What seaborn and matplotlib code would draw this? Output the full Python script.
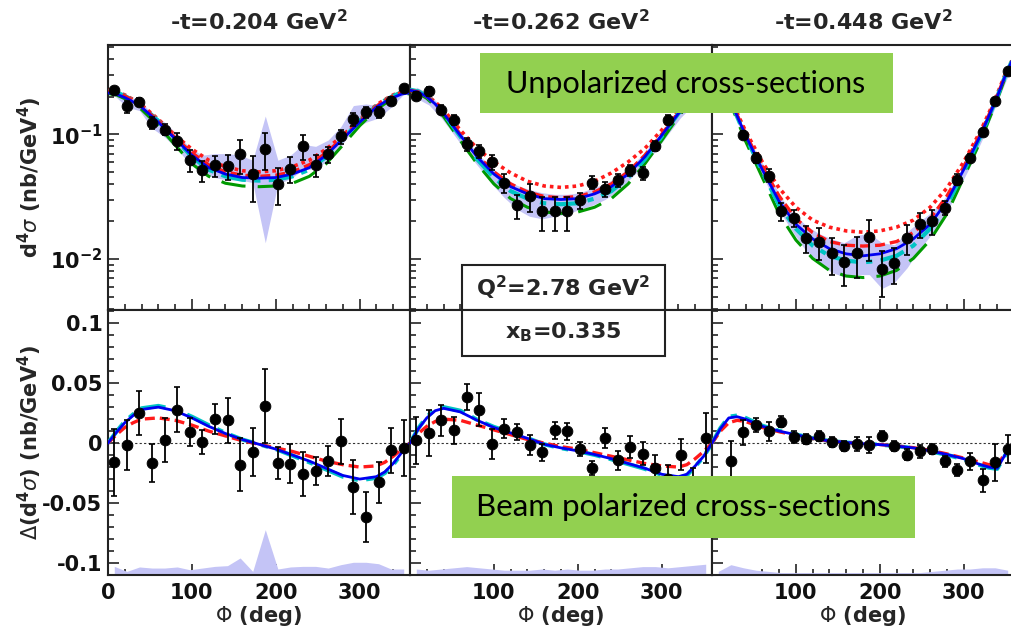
import numpy as np
import matplotlib
matplotlib.use("Agg")
import matplotlib.pyplot as plt
import seaborn as sns
from matplotlib.patches import Rectangle
from matplotlib.ticker import MultipleLocator, NullFormatter, FixedLocator

# bin centres of the data points and the grid the model curves are read on
phi_pts = [7.5, 22.5, 37.5, 52.5, 67.5, 82.5, 97.5, 112.5, 127.5, 142.5, 157.5, 172.5,
           187.5, 202.5, 217.5, 232.5, 247.5, 262.5, 277.5, 292.5, 307.5, 322.5, 337.5, 352.5]
phi_grid = [0, 10, 20, 30, 40, 60, 80, 100, 120, 140, 160, 180,
            200, 220, 240, 260, 280, 300, 320, 330, 340, 350, 360]

titles = ["-t=0.204 GeV$^{\\mathdefault{2}}$", "-t=0.262 GeV$^{\\mathdefault{2}}$",
          "-t=0.448 GeV$^{\\mathdefault{2}}$"]

# ---- unpolarized cross sections (top row) ----
xs_t1 = [0.225, 0.168, 0.182, 0.123, 0.109, 0.089, 0.062, 0.0515, 0.0565, 0.0555, 0.0689, 0.0476,
         0.0769, 0.0401, 0.0531, 0.0802, 0.0572, 0.0689, 0.0964, 0.133, 0.150, 0.150, 0.186, 0.235]
err_t1 = [0.0135, 0.0185, 0.0146, 0.0135, 0.0109, 0.0142, 0.0124, 0.0098, 0.0107, 0.0122, 0.0207, 0.019,
          0.0254, 0.0132, 0.0122, 0.0176, 0.0114, 0.0096, 0.0125, 0.016, 0.015, 0.015, 0.0149, 0.0141]
xs_t2 = [0.204, 0.221, 0.158, 0.131, 0.084, 0.073, 0.060, 0.041, 0.0269, 0.0319, 0.0242, 0.0242,
         0.0242, 0.0295, 0.041, 0.0366, 0.0427, 0.0515, 0.049, 0.081, 0.131, 0.165, 0.19, 0.22]
err_t2 = [0.0163, 0.0177, 0.0126, 0.0131, 0.0101, 0.0088, 0.0084, 0.0074, 0.0059, 0.008, 0.0073, 0.0073,
          0.0073, 0.0044, 0.0049, 0.0051, 0.0051, 0.0052, 0.0059, 0.0081, 0.0105, 0.0132, 0.0152, 0.0176]
xs_t3 = [0.30, 0.22, 0.0994, 0.0647, 0.0467, 0.0242, 0.0214, 0.0148, 0.0138, 0.0111, 0.00946, 0.0111,
         0.0151, 0.00828, 0.00925, 0.0148, 0.019, 0.0201, 0.0258, 0.0434, 0.0647, 0.104, 0.186, 0.32]
err_t3 = [0.015, 0.011, 0.006, 0.0058, 0.0056, 0.0039, 0.0034, 0.0036, 0.0039, 0.0036, 0.0034, 0.004,
          0.0054, 0.0033, 0.003, 0.0041, 0.0042, 0.0044, 0.0034, 0.0043, 0.0052, 0.0062, 0.0093, 0.016]

band_hi_t1 = [0.24, 0.20, 0.19, 0.145, 0.125, 0.10, 0.078, 0.068, 0.07, 0.07, 0.068, 0.062,
              0.14, 0.062, 0.068, 0.083, 0.08, 0.09, 0.115, 0.17, 0.175, 0.17, 0.20, 0.245]
band_lo_t1 = [0.205, 0.165, 0.155, 0.112, 0.095, 0.076, 0.058, 0.048, 0.045, 0.043, 0.043, 0.041,
              0.0135, 0.040, 0.044, 0.052, 0.053, 0.062, 0.08, 0.11, 0.125, 0.135, 0.165, 0.21]
band_hi_t2 = [0.239, 0.212, 0.166, 0.122, 0.090, 0.068, 0.054, 0.045, 0.039, 0.036, 0.034, 0.033,
              0.033, 0.034, 0.037, 0.040, 0.046, 0.055, 0.069, 0.091, 0.122, 0.166, 0.212, 0.239]
band_lo_t2 = [0.195, 0.172, 0.135, 0.099, 0.072, 0.054, 0.040, 0.031, 0.025, 0.022, 0.021, 0.022,
              0.023, 0.025, 0.027, 0.030, 0.035, 0.044, 0.055, 0.073, 0.10, 0.136, 0.172, 0.195]
band_hi_t3 = [0.38, 0.20, 0.112, 0.072, 0.048, 0.031, 0.023, 0.0185, 0.016, 0.0145, 0.0135, 0.0155,
              0.016, 0.0135, 0.013, 0.0165, 0.020, 0.024, 0.031, 0.046, 0.069, 0.108, 0.195, 0.34]
band_lo_t3 = [0.32, 0.17, 0.094, 0.059, 0.037, 0.023, 0.016, 0.0115, 0.0095, 0.0078, 0.0072, 0.0075,
              0.0075, 0.0058, 0.0065, 0.0085, 0.012, 0.016, 0.022, 0.035, 0.055, 0.092, 0.165, 0.29]

# model curves, top row
blue_t1 = [0.215, 0.21, 0.197, 0.182, 0.165, 0.125, 0.092, 0.068, 0.054, 0.048, 0.045, 0.0445,
           0.045, 0.048, 0.054, 0.068, 0.092, 0.125, 0.165, 0.182, 0.197, 0.21, 0.215]
rdot_t1 = [0.225, 0.22, 0.207, 0.19, 0.172, 0.132, 0.098, 0.076, 0.062, 0.055, 0.051, 0.050,
           0.051, 0.055, 0.062, 0.076, 0.098, 0.132, 0.172, 0.19, 0.207, 0.22, 0.225]
rdash_t1 = [0.222, 0.217, 0.203, 0.187, 0.168, 0.128, 0.094, 0.071, 0.057, 0.05, 0.047, 0.046,
            0.047, 0.05, 0.057, 0.071, 0.094, 0.128, 0.168, 0.187, 0.203, 0.217, 0.222]
cyan_t1 = [0.222, 0.217, 0.203, 0.187, 0.169, 0.128, 0.092, 0.066, 0.052, 0.046, 0.0432, 0.0425,
           0.0432, 0.046, 0.052, 0.066, 0.092, 0.128, 0.169, 0.187, 0.203, 0.217, 0.222]
green_t1 = [0.212, 0.207, 0.193, 0.176, 0.158, 0.117, 0.082, 0.058, 0.046, 0.0405, 0.0385, 0.038,
            0.0385, 0.0405, 0.046, 0.058, 0.082, 0.117, 0.158, 0.176, 0.193, 0.207, 0.212]

blue_t2 = [0.225, 0.218, 0.2, 0.175, 0.147, 0.098, 0.066, 0.048, 0.038, 0.0333, 0.0305, 0.030,
           0.0305, 0.0333, 0.038, 0.048, 0.066, 0.098, 0.147, 0.175, 0.2, 0.218, 0.225]
rdot_t2 = [0.225, 0.22, 0.205, 0.182, 0.157, 0.108, 0.077, 0.06, 0.049, 0.042, 0.0385, 0.0375,
           0.0385, 0.042, 0.049, 0.06, 0.077, 0.108, 0.157, 0.182, 0.205, 0.22, 0.225]
rdash_t2 = [0.225, 0.219, 0.201, 0.177, 0.15, 0.1, 0.068, 0.05, 0.04, 0.0345, 0.0317, 0.031,
            0.0317, 0.0345, 0.04, 0.05, 0.068, 0.1, 0.15, 0.177, 0.201, 0.219, 0.225]
cyan_t2 = [0.228, 0.221, 0.202, 0.176, 0.147, 0.096, 0.063, 0.045, 0.035, 0.0305, 0.028, 0.0275,
           0.028, 0.0305, 0.035, 0.045, 0.063, 0.096, 0.147, 0.176, 0.202, 0.221, 0.228]
green_t2 = [0.22, 0.213, 0.194, 0.168, 0.139, 0.089, 0.058, 0.04, 0.0305, 0.026, 0.0238, 0.0232,
            0.0238, 0.026, 0.0305, 0.04, 0.058, 0.089, 0.139, 0.168, 0.194, 0.213, 0.22]

blue_t3 = [0.42, 0.30, 0.20, 0.14, 0.098, 0.052, 0.029, 0.019, 0.0145, 0.0121, 0.011, 0.0106,
           0.011, 0.0121, 0.0145, 0.019, 0.029, 0.052, 0.098, 0.14, 0.20, 0.30, 0.42]
rdot_t3 = [0.42, 0.31, 0.21, 0.148, 0.106, 0.06, 0.037, 0.026, 0.0205, 0.018, 0.0168, 0.0164,
           0.0168, 0.018, 0.0205, 0.026, 0.037, 0.06, 0.106, 0.148, 0.21, 0.31, 0.42]
rdash_t3 = [0.42, 0.30, 0.205, 0.143, 0.101, 0.055, 0.032, 0.021, 0.0163, 0.0138, 0.0129, 0.0127,
            0.0129, 0.0138, 0.0163, 0.021, 0.032, 0.055, 0.101, 0.143, 0.205, 0.30, 0.42]
cyan_t3 = [0.42, 0.30, 0.20, 0.138, 0.096, 0.05, 0.027, 0.0175, 0.0128, 0.0106, 0.0097, 0.0094,
           0.0097, 0.0106, 0.0128, 0.0175, 0.027, 0.05, 0.096, 0.138, 0.20, 0.30, 0.42]
green_t3 = [0.40, 0.29, 0.19, 0.13, 0.088, 0.045, 0.023, 0.0142, 0.0101, 0.0081, 0.0073, 0.0071,
            0.0073, 0.0081, 0.0101, 0.0142, 0.023, 0.045, 0.088, 0.13, 0.19, 0.29, 0.40]

# ---- beam polarized cross sections (bottom row) ----
xs_b1 = [-0.0161, -0.0014, 0.025, -0.0167, 0.0028, 0.0278, 0.0089, 0.0008, 0.020, 0.0189, -0.0181, -0.0078,
         0.0311, -0.0167, -0.0172, -0.0258, -0.0236, -0.0153, 0.0014, -0.0367, -0.0617, -0.0328, -0.0061, -0.0042]
err_b1 = [0.028, 0.021, 0.0185, 0.0156, 0.0185, 0.0187, 0.0117, 0.0103, 0.0125, 0.0187, 0.0222, 0.02,
          0.031, 0.0133, 0.0161, 0.0187, 0.0117, 0.0125, 0.0187, 0.0228, 0.0208, 0.0172, 0.0187, 0.0236]
xs_b2 = [0.0022, 0.0083, 0.0189, 0.0106, 0.0383, 0.0278, -0.0006, 0.0119, 0.0089, -0.0014, -0.0078, 0.0106,
         0.0097, -0.005, -0.0208, 0.0042, -0.0144, -0.0033, -0.0089, -0.0208, -0.030, -0.0097, -0.035, 0.0042]
err_b2 = [0.0194, 0.0194, 0.013, 0.011, 0.0108, 0.0139, 0.0125, 0.0078, 0.0067, 0.0083, 0.0069, 0.0069,
          0.0069, 0.0061, 0.0056, 0.0083, 0.0078, 0.0089, 0.0097, 0.011, 0.012, 0.013, 0.014, 0.021]
xs_b3 = [-0.040, -0.0153, 0.0089, 0.0153, 0.0097, 0.018, 0.005, 0.0033, 0.0061, 0.0006, -0.0028, -0.0006,
         -0.0014, 0.0061, -0.0028, -0.0097, -0.0069, -0.005, -0.0153, -0.0222, -0.0153, -0.0311, -0.0161, -0.005]
err_b3 = [0.01, 0.0172, 0.0103, 0.0058, 0.0078, 0.0044, 0.0047, 0.0042, 0.0044, 0.0042, 0.0042, 0.0056,
          0.0067, 0.0039, 0.0042, 0.0044, 0.0056, 0.0039, 0.0044, 0.005, 0.0069, 0.0097, 0.0153, 0.012]

# systematic band, drawn up from the bottom of the frame
syst_b1 = [-0.1028, -0.107, -0.1033, -0.1042, -0.1042, -0.1033, -0.1056, -0.1042, -0.1028, -0.1022, -0.0958, -0.107,
           -0.0722, -0.105, -0.1033, -0.1028, -0.1028, -0.1042, -0.1014, -0.0994, -0.0994, -0.1006, -0.105, -0.105]
syst_b2 = [-0.105, -0.106, -0.105, -0.104, -0.103, -0.104, -0.105, -0.106, -0.106, -0.106, -0.105, -0.106,
           -0.105, -0.106, -0.106, -0.105, -0.105, -0.104, -0.103, -0.103, -0.104, -0.103, -0.102, -0.101]
syst_b3 = [-0.107, -0.1014, -0.104, -0.106, -0.107, -0.108, -0.108, -0.108, -0.108, -0.108, -0.108, -0.108,
           -0.108, -0.108, -0.108, -0.108, -0.108, -0.107, -0.106, -0.105, -0.105, -0.104, -0.104, -0.106]

blue_b1 = [0.0, 0.009, 0.017, 0.023, 0.028, 0.030, 0.027, 0.021, 0.014, 0.008, 0.003, -0.001,
           -0.005, -0.010, -0.015, -0.021, -0.027, -0.030, -0.028, -0.024, -0.017, -0.008, 0.0]
cyan_b1 = [0.0, 0.0095, 0.018, 0.024, 0.029, 0.031, 0.028, 0.022, 0.015, 0.0085, 0.003, -0.001,
           -0.005, -0.0105, -0.016, -0.022, -0.028, -0.031, -0.029, -0.025, -0.018, -0.009, 0.0]
rdash_b1 = [0.0, 0.007, 0.013, 0.017, 0.020, 0.021, 0.019, 0.015, 0.010, 0.006, 0.002, -0.001,
            -0.004, -0.007, -0.011, -0.015, -0.018, -0.020, -0.019, -0.016, -0.011, -0.005, 0.0]
blue_b2 = [0.0, 0.012, 0.021, 0.027, 0.029, 0.026, 0.019, 0.013, 0.0085, 0.004, -0.001, -0.004,
           -0.0065, -0.0095, -0.013, -0.017, -0.021, -0.026, -0.028, -0.026, -0.019, -0.011, 0.0]
cyan_b2 = [0.0, 0.0125, 0.022, 0.028, 0.030, 0.027, 0.0195, 0.0135, 0.0088, 0.0042, -0.001, -0.0042,
           -0.0068, -0.0098, -0.0135, -0.0175, -0.0215, -0.0265, -0.029, -0.027, -0.0195, -0.0115, 0.0]
rdash_b2 = [0.0, 0.008, 0.014, 0.018, 0.020, 0.019, 0.015, 0.011, 0.007, 0.003, 0.0, -0.003,
            -0.005, -0.008, -0.011, -0.014, -0.017, -0.019, -0.020, -0.018, -0.013, -0.007, 0.0]
blue_b3 = [0.0, 0.012, 0.021, 0.022, 0.020, 0.014, 0.010, 0.007, 0.004, 0.0018, 0.0005, -0.0005,
           -0.0013, -0.0025, -0.004, -0.0065, -0.0095, -0.013, -0.018, -0.020, -0.021, -0.009, 0.0]
cyan_b3 = [0.0, 0.0125, 0.022, 0.023, 0.021, 0.0145, 0.0102, 0.0072, 0.0041, 0.0018, 0.0005, -0.0005,
           -0.0013, -0.0026, -0.0042, -0.0068, -0.0098, -0.0135, -0.0185, -0.0205, -0.0215, -0.0095, 0.0]
rdash_b3 = [0.0, 0.010, 0.017, 0.019, 0.018, 0.013, 0.0095, 0.0065, 0.0038, 0.0016, 0.0004, -0.0005,
            -0.0012, -0.0024, -0.0038, -0.006, -0.009, -0.0125, -0.016, -0.018, -0.0185, -0.008, 0.0]

BAND = "#c4c4f6"
GREEN_BOX = "#92d050"

sns.set_style("ticks")
plt.rcParams["font.family"] = ["DejaVu Sans"]
plt.rcParams["mathtext.fontset"] = "dejavusans"

W, H = 1011, 634
fig = plt.figure(figsize=(W / 100, H / 100), dpi=100)


def fx(px):
    return px / W


def fy(py):
    return 1 - py / H


def style_axis(ax, col):
    ax.set_xlim(0, 360)
    ax.xaxis.set_major_locator(FixedLocator([0, 100, 200, 300]))
    ax.xaxis.set_minor_locator(MultipleLocator(20))
    ax.tick_params(which="both", direction="in", top=False, right=False,
                   labelsize=15, width=1.1, colors="#111111")
    ax.tick_params(which="major", length=8)
    ax.tick_params(which="minor", length=4)
    ax.tick_params(axis="x", pad=6)
    ax.tick_params(axis="y", pad=4)
    for sp in ax.spines.values():
        sp.set_linewidth(1.5)
        sp.set_color("#222222")
    for lab in ax.get_xticklabels() + ax.get_yticklabels():
        lab.set_fontweight("bold")


def draw_curve(ax, y, color, lw, ls, z):
    sns.lineplot(x=phi_grid, y=y, ax=ax, color=color, lw=lw, linestyle=ls, zorder=z)


def draw_points(ax, y, err):
    ax.errorbar(phi_pts, y, yerr=err, fmt="none", ecolor="k", elinewidth=1.3,
                capsize=2.5, capthick=1.2, zorder=6)
    sns.scatterplot(x=phi_pts, y=y, ax=ax, color="k", s=60, edgecolor="k", zorder=7)


top_data = [
    (xs_t1, err_t1, band_hi_t1, band_lo_t1, blue_t1, rdot_t1, rdash_t1, cyan_t1, green_t1),
    (xs_t2, err_t2, band_hi_t2, band_lo_t2, blue_t2, rdot_t2, rdash_t2, cyan_t2, green_t2),
    (xs_t3, err_t3, band_hi_t3, band_lo_t3, blue_t3, rdot_t3, rdash_t3, cyan_t3, green_t3),
]
bot_data = [
    (xs_b1, err_b1, syst_b1, blue_b1, cyan_b1, rdash_b1),
    (xs_b2, err_b2, syst_b2, blue_b2, cyan_b2, rdash_b2),
    (xs_b3, err_b3, syst_b3, blue_b3, cyan_b3, rdash_b3),
]

lefts = [108, 410, 712]
pw = 302
for col in range(3):
    # top row
    ax = fig.add_axes([fx(lefts[col]), fy(310), pw / W, 265 / H])
    xs, err, bh, bl, blue, rdot, rdash, cyan, green = top_data[col]
    ax.set_yscale("log")
    ax.fill_between(phi_pts, bl, bh, color=BAND, lw=0, zorder=1)
    draw_curve(ax, green, "#009a00", 2.2, (0, (8, 4)), 2)
    draw_curve(ax, rdot, "#ff1a1a", 2.6, (0, (1, 1.1)), 3)
    draw_curve(ax, cyan, "#00c4c4", 3.0, (0, (6, 2, 1.5, 2)), 3)
    draw_curve(ax, rdash, "#ff1a1a", 2.4, (0, (3, 1.5)), 4)
    draw_curve(ax, blue, "#0000f0", 2.0, "-", 5)
    draw_points(ax, xs, err)
    ax.set_ylim(0.0039, 0.52)
    ax.yaxis.set_major_locator(FixedLocator([0.01, 0.1]))
    ax.yaxis.set_minor_formatter(NullFormatter())
    if col == 0:
        ax.set_yticklabels(["$\\mathdefault{10^{-2}}$", "$\\mathdefault{10^{-1}}$"])
    else:
        ax.set_yticklabels(["", ""])
    ax.set_xticklabels([])
    ax.set_xlabel("")
    ax.set_ylabel("")
    style_axis(ax, col)
    fig.text(fx(lefts[col] + pw / 2), fy(22), titles[col], ha="center", va="center",
             fontsize=16, fontweight="bold")

    # bottom row
    ax = fig.add_axes([fx(lefts[col]), fy(575), pw / W, 265 / H])
    xs, err, syst, blue, cyan, rdash = bot_data[col]
    ax.fill_between(phi_pts, -0.11, syst, color=BAND, lw=0, zorder=1)
    ax.axhline(0, color="#333333", lw=0.8, ls=(0, (2, 2)), zorder=2)
    draw_curve(ax, cyan, "#00c4c4", 3.0, (0, (6, 2, 1.5, 2)), 3)
    draw_curve(ax, rdash, "#ff1a1a", 2.4, (0, (3, 1.5)), 4)
    draw_curve(ax, blue, "#0000f0", 2.0, "-", 5)
    draw_points(ax, xs, err)
    ax.set_ylim(-0.11, 0.111)
    ax.yaxis.set_major_locator(FixedLocator([-0.1, -0.05, 0, 0.05, 0.1]))
    ax.yaxis.set_minor_locator(MultipleLocator(0.01))
    if col == 0:
        ax.set_yticklabels(["-0.1", "-0.05", "0", "0.05", "0.1"])
        ax.set_xticklabels(["0", "100", "200", "300"])
    else:
        ax.set_yticklabels([""] * 5)
        ax.set_xticklabels(["", "100", "200", "300"])
    ax.set_ylabel("")
    ax.set_xlabel("")
    style_axis(ax, col)
    fig.text(fx(lefts[col] + pw / 2), fy(616), "$\\Phi$ (deg)", ha="center", va="center",
             fontsize=15, fontweight="bold")

# y axis titles
fig.text(fx(30), fy(177), "d$^{\\mathdefault{4}}\\sigma$ (nb/GeV$^{\\mathdefault{4}}$)",
         rotation=90, ha="center", va="center", fontsize=15, fontweight="bold")
fig.text(fx(30), fy(443), "$\\Delta$(d$^{\\mathdefault{4}}\\sigma$) (nb/GeV$^{\\mathdefault{4}}$)",
         rotation=90, ha="center", va="center", fontsize=15, fontweight="bold")

# kinematics boxes
fig.add_artist(Rectangle((fx(462), fy(310)), 203 / W, 45 / H, transform=fig.transFigure,
                         facecolor="white", edgecolor="#222222", lw=1.5, zorder=20))
fig.text(fx(563), fy(288), "Q$^{\\mathdefault{2}}$=2.78 GeV$^{\\mathdefault{2}}$", ha="center",
         va="center", fontsize=16, fontweight="bold", zorder=21)
fig.add_artist(Rectangle((fx(462), fy(356)), 203 / W, 46 / H, transform=fig.transFigure,
                         facecolor="white", edgecolor="#222222", lw=1.5, zorder=20))
fig.text(fx(563), fy(332), "x$_{\\mathdefault{B}}$=0.335", ha="center",
         va="center", fontsize=16, fontweight="bold", zorder=21)

# green annotation boxes
fig.add_artist(Rectangle((fx(480), fy(113)), 413 / W, 60 / H, transform=fig.transFigure,
                         facecolor=GREEN_BOX, edgecolor="none", zorder=30))
fig.text(fx(686), fy(84), "Unpolarized cross-sections", ha="center", va="center",
         fontsize=22, family=["Lato", "DejaVu Sans"], color="black", zorder=31)
fig.add_artist(Rectangle((fx(452), fy(538)), 463 / W, 62 / H, transform=fig.transFigure,
                         facecolor=GREEN_BOX, edgecolor="none", zorder=30))
fig.text(fx(683), fy(507), "Beam polarized cross-sections", ha="center", va="center",
         fontsize=22.5, family=["Lato", "DejaVu Sans"], color="black", zorder=31)

fig.savefig("out.png", dpi=100)
